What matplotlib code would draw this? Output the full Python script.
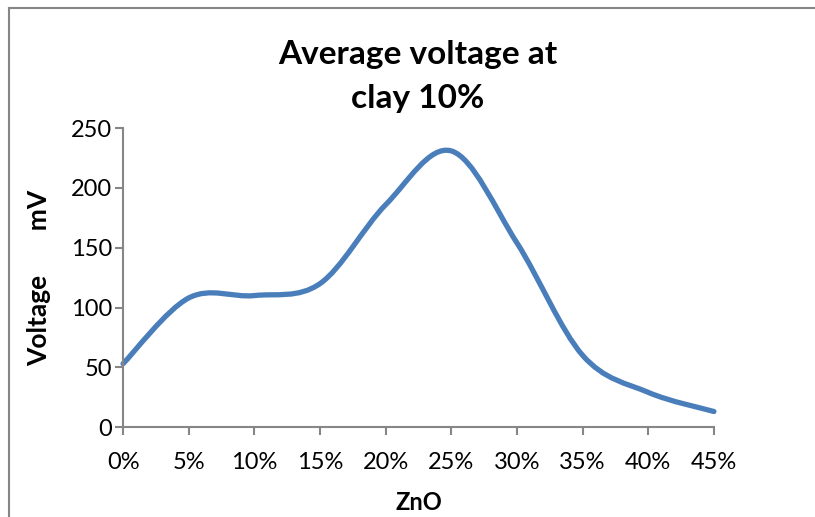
import numpy as np
import matplotlib
matplotlib.use("Agg")
import matplotlib.pyplot as plt
from matplotlib.path import Path
from matplotlib.patches import PathPatch
from matplotlib.lines import Line2D

# data
categories = ["0%", "5%", "10%", "15%", "20%", "25%", "30%", "35%", "40%", "45%"]
voltage = [53, 108, 110, 120, 186, 231, 154, 60, 29, 13]
yticks = [0, 50, 100, 150, 200, 250]

plt.rcParams['font.family'] = ['Lato', 'DejaVu Sans']

fig = plt.figure(figsize=(8.15, 5.17), dpi=100)
ax = fig.add_axes([0.151, 0.174, 0.725, 0.578])

# smooth line like excel (bezier through the points)
xs = np.arange(len(voltage), dtype=float)
ys = np.array(voltage, dtype=float)
verts = [(xs[0], ys[0])]
codes = [Path.MOVETO]
n = len(xs)
for i in range(n - 1):
    p0 = np.array([xs[max(i - 1, 0)], ys[max(i - 1, 0)]])
    p1 = np.array([xs[i], ys[i]])
    p2 = np.array([xs[i + 1], ys[i + 1]])
    p3 = np.array([xs[min(i + 2, n - 1)], ys[min(i + 2, n - 1)]])
    c1 = p1 + (p2 - p0) / 6
    c2 = p2 - (p3 - p1) / 6
    verts += [tuple(c1), tuple(c2), tuple(p2)]
    codes += [Path.CURVE4] * 3
patch = PathPatch(Path(verts, codes), facecolor='none', edgecolor='#4a7ebb',
                  lw=3.8, capstyle='round', joinstyle='round', clip_on=False)
ax.add_patch(patch)

ax.set_xlim(0, n - 1)
ax.set_ylim(0, 250)
ax.set_xticks(xs)
ax.set_xticklabels(categories)
ax.set_yticks(yticks)

for s in ['top', 'right']:
    ax.spines[s].set_visible(False)
for s in ['left', 'bottom']:
    ax.spines[s].set_color('#868686')
    ax.spines[s].set_linewidth(1.5)
ax.tick_params(axis='both', colors='#868686', length=6, width=1.5,
               labelsize=17, labelcolor='black')
ax.tick_params(axis='x', pad=12)
ax.tick_params(axis='y', pad=2)

ax.set_xlabel("ZnO", fontsize=17, fontweight='bold', labelpad=13)
ax.set_ylabel("Voltage       mV", fontsize=19, fontweight='bold', labelpad=14)

fig.text(0.513, 0.894, "Average voltage at", ha='center', va='center',
         fontsize=24, fontweight='bold')
fig.text(0.513, 0.81, "clay 10%", ha='center', va='center',
         fontsize=24, fontweight='bold')

# chart border (left and top)
fig.add_artist(Line2D([0.011, 0.011], [0, 0.985], color='#868686', lw=1.5))
fig.add_artist(Line2D([0.011, 1.0], [0.985, 0.985], color='#868686', lw=1.5))

fig.savefig("out.png", dpi=100)
